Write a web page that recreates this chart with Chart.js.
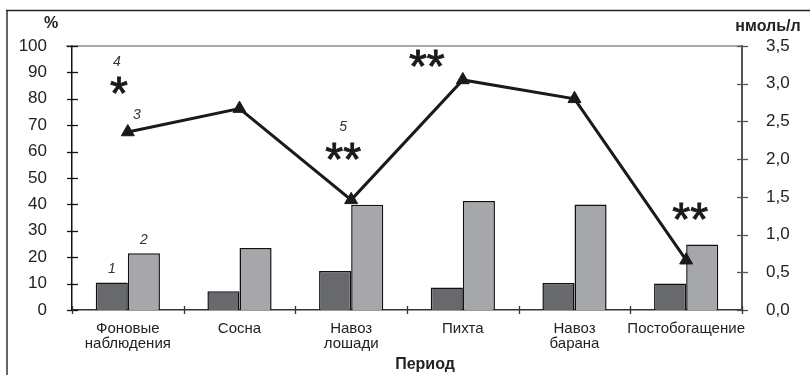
<!DOCTYPE html>
<html>
<head>
<meta charset="utf-8">
<script src="https://cdn.jsdelivr.net/npm/chart.js@4.4.1/dist/chart.umd.min.js"></script>
<style>
  html, body { margin: 0; padding: 0; background: #fff; }
  #wrap { width: 810px; height: 375px; }
</style>
</head>
<body>
<div id="wrap"><canvas id="c" width="810" height="375"></canvas></div>
<script>
// Periods of observation
const categories = [['Фоновые', 'наблюдения'], 'Сосна', ['Навоз', 'лошади'], 'Пихта', ['Навоз', 'барана'], 'Постобогащение'];
// Left axis, %
const series1 = [10.4, 7.1, 14.8, 8.5, 10.2, 10.0];
const series2 = [21.5, 23.5, 39.9, 41.3, 40.0, 24.8];
// Right axis, нмоль/л
const series3 = [2.36, 2.67, 1.46, 3.05, 2.80, 0.66];
const leftTicks = { min: 0, max: 100, step: 10 };
const rightTicks = { min: 0, max: 3.5, step: 0.5 };

// Marks placed over the chart: category index, pixel shift, value on the % axis
const notes = [
  { text: '1', cat: 0, dx: -16, v: 15.5, kind: 'num' },
  { text: '2', cat: 0, dx: 16, v: 26.5, kind: 'num' },
  { text: '3', cat: 0, dx: 9, v: 73.9, kind: 'num' },
  { text: '4', cat: 0, dx: -11, v: 93.9, kind: 'num' },
  { text: '*', cat: 0, dx: -9, v: 85.6, kind: 'star' },
  { text: '5', cat: 2, dx: -8, v: 69.3, kind: 'num' },
  { text: '**', cat: 2, dx: -8, v: 60.6, kind: 'star' },
  { text: '**', cat: 3, dx: -36, v: 95.8, kind: 'star' },
  { text: '**', cat: 5, dx: 4, v: 37.9, kind: 'star' }
];

const FONT = '"Liberation Sans", Arial, sans-serif';

const decorations = {
  id: 'decorations',
  beforeDraw(chart) {
    const ctx = chart.ctx;
    ctx.save();
    ctx.fillStyle = '#fff';
    ctx.fillRect(0, 0, chart.width, chart.height);
    // outer frame
    ctx.strokeStyle = '#666';
    ctx.lineWidth = 2;
    ctx.beginPath();
    ctx.moveTo(7, 10); ctx.lineTo(7, 375);
    ctx.stroke();
    ctx.strokeStyle = '#222';
    ctx.lineWidth = 1.5;
    ctx.beginPath();
    ctx.moveTo(6, 10.5); ctx.lineTo(810, 10.5);
    ctx.stroke();
    ctx.restore();
  },
  beforeDatasetsDraw(chart) {
    const ctx = chart.ctx;
    const a = chart.chartArea;
    const x = chart.scales.x, y = chart.scales.y, y1 = chart.scales.y1;
    ctx.save();
    // top edge of plot area
    ctx.strokeStyle = '#8a8a8a';
    ctx.lineWidth = 1.5;
    ctx.beginPath();
    ctx.moveTo(a.left - 6, a.top); ctx.lineTo(a.right, a.top);
    ctx.stroke();
    // left axis ticks
    ctx.strokeStyle = '#111';
    ctx.lineWidth = 1.3;
    y.ticks.forEach(t => {
      const py = Math.round(y.getPixelForValue(t.value)) + 0.5;
      ctx.beginPath(); ctx.moveTo(a.left - 5, py); ctx.lineTo(a.left + 6, py); ctx.stroke();
    });
    // right axis ticks
    ctx.strokeStyle = '#555';
    y1.ticks.forEach(t => {
      const py = Math.round(y1.getPixelForValue(t.value)) + 0.5;
      ctx.beginPath(); ctx.moveTo(a.right - 5, py); ctx.lineTo(a.right + 6, py); ctx.stroke();
    });
    // category boundary ticks
    ctx.strokeStyle = '#333';
    const n = categories.length;
    for (let i = 0; i <= n; i++) {
      let px;
      if (i === 0) px = a.left;
      else if (i === n) px = a.right;
      else px = (x.getPixelForValue(i - 1) + x.getPixelForValue(i)) / 2;
      px = Math.round(px) + 0.5;
      ctx.beginPath(); ctx.moveTo(px, a.bottom - 4); ctx.lineTo(px, a.bottom + 4); ctx.stroke();
    }
    ctx.restore();
  },
  afterDatasetsDraw(chart) {
    const ctx = chart.ctx;
    const x = chart.scales.x, y = chart.scales.y;
    ctx.save();
    ctx.textAlign = 'center';
    ctx.textBaseline = 'middle';
    notes.forEach(nt => {
      const px = x.getPixelForValue(nt.cat) + nt.dx;
      const py = y.getPixelForValue(nt.v);
      if (nt.kind === 'num') {
        ctx.fillStyle = '#333';
        ctx.font = 'italic 14px ' + FONT;
        ctx.fillText(nt.text, px, py);
      } else {
        ctx.fillStyle = '#1a1a1a';
        ctx.strokeStyle = '#1a1a1a';
        ctx.lineWidth = 0.9;
        ctx.font = '46px ' + FONT;
        ctx.fillText(nt.text, px, py + 12);
        ctx.strokeText(nt.text, px, py + 12);
      }
    });
    // axis titles
    ctx.fillStyle = '#222';
    ctx.font = 'bold 16px ' + FONT;
    ctx.fillText('%', 51, 24);
    ctx.fillText('нмоль/л', 768, 27);
    ctx.fillText('Период', 425, 365);
    ctx.restore();
  }
};

const fmtRight = v => Number(v).toFixed(1).replace('.', ',');

new Chart(document.getElementById('c'), {
  type: 'bar',
  data: {
    labels: categories,
    datasets: [
      {
        type: 'line',
        data: series3,
        yAxisID: 'y1',
        borderColor: '#1a1a1a',
        borderWidth: 3,
        pointStyle: 'triangle',
        pointRadius: 7.5,
        pointBackgroundColor: '#1a1a1a',
        pointBorderColor: '#1a1a1a',
        pointBorderWidth: 1,
        tension: 0,
        order: 0
      },
      {
        data: series1,
        yAxisID: 'y',
        backgroundColor: '#68696d',
        borderColor: '#111',
        borderWidth: 1.5,
        barPercentage: 1,
        categoryPercentage: 0.575,
        order: 1
      },
      {
        data: series2,
        yAxisID: 'y',
        backgroundColor: '#a6a7ab',
        borderColor: '#111',
        borderWidth: 1.5,
        barPercentage: 1,
        categoryPercentage: 0.575,
        order: 1
      }
    ]
  },
  options: {
    responsive: false,
    animation: false,
    events: [],
    layout: { padding: { top: 46, left: 0, right: 0, bottom: 0 } },
    plugins: { legend: { display: false }, tooltip: { enabled: false } },
    scales: {
      x: {
        offset: true,
        grid: { display: false },
        border: { display: true, color: '#333', width: 1.5 },
        ticks: { font: { family: FONT, size: 15, lineHeight: 1.0 }, color: '#222', padding: 3, maxRotation: 0, autoSkip: false },
        afterFit(s) { s.height = 65; }
      },
      y: {
        position: 'left',
        min: leftTicks.min, max: leftTicks.max,
        grid: { display: false },
        border: { display: true, color: '#111', width: 1.5 },
        ticks: { stepSize: leftTicks.step, font: { family: FONT, size: 17 }, color: '#222', padding: 17 },
        afterFit(s) { s.width = 72; }
      },
      y1: {
        position: 'right',
        min: rightTicks.min, max: rightTicks.max,
        grid: { display: false },
        border: { display: true, color: '#555', width: 2 },
        ticks: { stepSize: rightTicks.step, font: { family: FONT, size: 17 }, color: '#222', padding: 16, callback: fmtRight },
        afterFit(s) { s.width = 68; }
      }
    }
  },
  plugins: [decorations]
});
</script>
</body>
</html>
